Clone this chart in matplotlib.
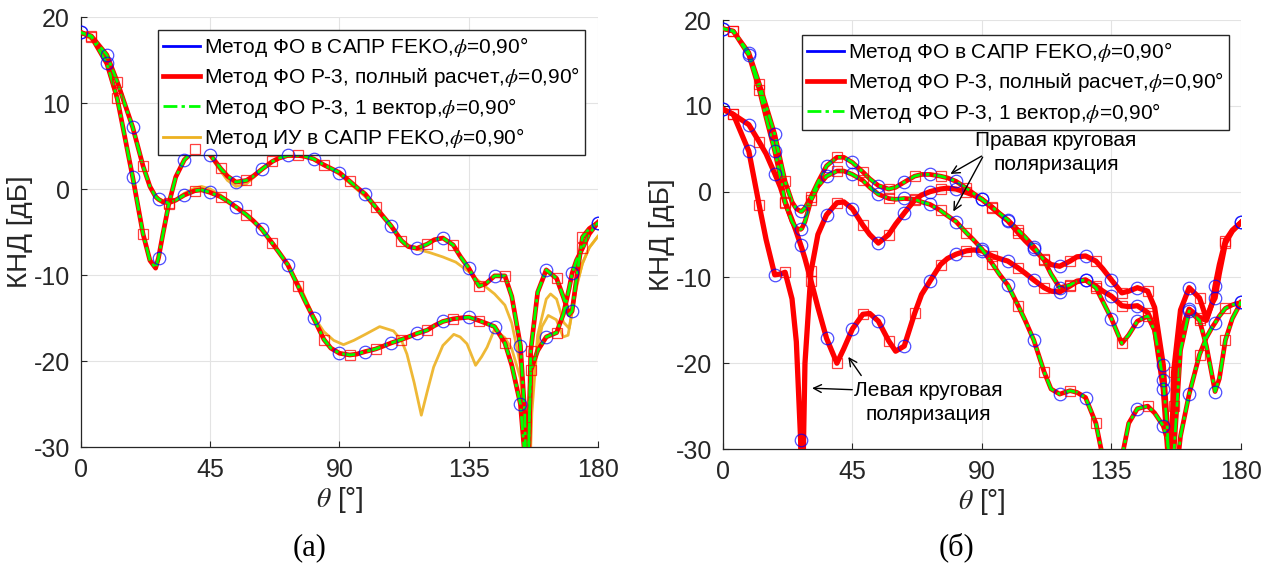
import numpy as np
import matplotlib
matplotlib.use("Agg")
import matplotlib.pyplot as plt

plt.rcParams['font.family'] = ['Liberation Sans', 'DejaVu Sans']
plt.rcParams['mathtext.fontset'] = 'stix'
plt.rcParams['axes.unicode_minus'] = False

# ---------- (а): linear polarisation, phi = 0 and 90 deg ----------
th_a = np.array([0, 3.6, 9, 12.6, 18, 21.6, 24, 26, 27, 28.5,
                 30.6, 33, 36, 39.6, 42, 45, 48.6, 51, 54, 57.6,
                 60, 63, 66.6, 69, 72, 75.6, 78, 81, 84.6, 87,
                 90, 93.6, 96, 99, 102.6, 105, 108, 111.6, 114, 117,
                 120.6, 123, 126, 129.6, 132, 135, 138.6, 141, 144, 147.6,
                 150, 153, 154.5, 155.3, 156.6, 159, 162, 165.6, 168, 170,
                 171, 172.5, 174.6, 177, 180])
# PO (FEKO) and PO "P-3" coincide -> one set of values per cut
a_cut1 = np.array([18.2, 17.7, 14.6, 10.6, 1.4, -5.2, -8.3, -9.2, -8.0, -5.3,
                   -1.7, 1.4, 3.4, 4.6, 4.7, 4.0, 2.4, 1.5, 0.8, 1.0,
                   1.5, 2.3, 3.2, 3.6, 3.9, 3.9, 3.8, 3.5, 2.8, 2.4,
                   1.9, 0.9, 0.2, -0.6, -2.1, -3.1, -4.3, -6.0, -6.7, -6.9,
                   -6.4, -5.9, -5.7, -6.5, -7.8, -9.2, -11.3, -11.0, -10.1, -10.1,
                   -12.5, -18.2, -26, -40, -18.8, -12.0, -9.4, -10.4, -12.6, -14.6,
                   -14.2, -10.5, -5.6, -4.6, -3.9])
a_cut2 = np.array([18.2, 17.8, 15.6, 12.5, 7.2, 2.7, 0.3, -0.9, -1.2, -1.5,
                   -1.6, -1.3, -0.7, -0.2, -0.1, -0.4, -0.9, -1.4, -2.1, -3.0,
                   -3.7, -4.7, -6.3, -7.4, -8.8, -11.3, -13.0, -15.0, -17.5, -18.5,
                   -19.1, -19.3, -19.2, -18.9, -18.6, -18.3, -17.9, -17.5, -17.2, -16.8,
                   -16.4, -15.9, -15.4, -15.1, -15.0, -14.9, -15.3, -15.6, -16.0, -17.9,
                   -20.5, -25.0, -31, -38, -21.1, -18.8, -17.2, -16.7, -14.5, -11.5,
                   -9.8, -8.3, -6.9, -5.2, -3.9])

# MoM (FEKO)
th_mom1 = np.array([0, 4.5, 9, 13.5, 18, 21.6, 24, 26, 27, 28.5,
                    30.6, 33, 36, 39.6, 42, 45, 48.6, 51, 54, 57.6,
                    63, 67.5, 72, 76.5, 81, 85.5, 90, 94.5, 99, 103.5,
                    108, 112.5, 117, 121.5, 126, 130.5, 135, 139.5, 144, 147.6,
                    150, 153, 154.5, 155.3, 156.6, 159, 162, 163.5, 165.6, 168,
                    170, 172.5, 174.6, 177, 180])
mom1 = np.array([18.2, 17.4, 14.6, 9.0, 1.5, -5.2, -8.3, -9.2, -8.0, -5.5,
                 -1.7, 1.3, 3.4, 4.6, 4.6, 3.8, 2.1, 1.0, 0.3, 0.6,
                 2.2, 3.4, 3.8, 3.8, 3.4, 2.6, 1.7, 0.4, -0.9, -2.6,
                 -4.4, -6.4, -7.0, -7.4, -7.9, -8.5, -9.6, -11.0, -12.2, -13.5,
                 -15.6, -20.5, -27, -40, -26, -17, -12.8, -12.2, -12.8, -15.5,
                 -16.2, -11.5, -8.6, -6.8, -5.5])
th_mom2 = np.array([0, 4.5, 9, 13.5, 18, 21.6, 24, 27, 30.6, 33,
                    36, 39.6, 42, 45, 48.6, 54, 58.5, 63, 67.5, 72,
                    76.5, 81, 84.6, 88, 91.4, 95, 99, 104, 108.8, 111.6,
                    113.5, 116, 118.5, 120.6, 122.8, 126, 129.8, 132, 134.4, 137.4,
                    139.5, 141.4, 144, 147.6, 150, 153, 154.5, 155.6, 157, 158.6,
                    160.5, 162.7, 165.5, 167.9, 169.6, 172.5, 174.6, 177, 180])
mom2 = np.array([18.2, 17.2, 15.6, 11.8, 7.3, 2.7, 0.3, -1.2, -1.5, -1.2,
                 -0.5, 0.1, 0.3, 0.0, -0.7, -2.0, -3.3, -4.7, -6.5, -8.8,
                 -11.5, -14.8, -16.6, -17.6, -18.1, -17.6, -16.9, -16.0, -16.5, -17.6,
                 -19.2, -22.5, -26.3, -23.5, -20.7, -18.2, -16.9, -17.2, -18.0, -20.5,
                 -19.5, -18.4, -16.3, -17.3, -18.6, -22, -28, -40, -26, -19.1,
                 -16.0, -14.7, -15.2, -17.2, -17.0, -11.2, -8.7, -6.8, -5.5])

# ---------- (б): circular polarisation ----------
th_b = np.array([0, 3.6, 9, 12.6, 15, 18, 20, 21.6, 24, 25.5,
                 27, 27.4, 28.5, 30.6, 33, 36, 39.6, 42, 45, 48.6,
                 51, 54, 57.6, 60, 63, 66.6, 69, 72, 75.6, 78,
                 81, 84.6, 87, 90, 93.6, 96, 99, 102.6, 105, 108,
                 111.6, 114, 117, 120.6, 123, 126, 129.6, 132, 135, 138.6,
                 141, 144, 147.6, 150, 153, 154.5, 155.3, 156.6, 159, 162,
                 165.6, 168, 170, 171, 172.5, 174.6, 177, 180])
# right-hand circular (all three methods)
rhcp1 = np.array([19.0, 18.7, 16.2, 12.6, 10.0, 6.7, 3.6, 1.2, -1.2, -2.0,
                  -2.3, -2.3, -1.9, -0.6, 1.1, 3.0, 4.0, 4.0, 3.4, 2.3,
                  1.5, 0.7, 0.3, 0.5, 1.1, 1.8, 2.0, 2.0, 1.8, 1.6,
                  1.2, 0.4, -0.2, -0.9, -1.8, -2.5, -3.3, -4.5, -5.3, -6.4,
                  -8.0, -9.6, -11.2, -10.9, -10.4, -10.3, -11.2, -12.8, -14.8, -17.7,
                  -16.7, -15.1, -14.5, -16.2, -22.0, -28, -40, -31, -18.5, -13.9,
                  -15.0, -18.0, -21.5, -23.3, -21.8, -17.3, -14.8, -12.9])
rhcp2 = np.array([19.0, 18.7, 15.9, 11.9, 8.6, 4.7, 1.6, -1.3, -3.5, -4.3,
                  -4.4, -4.3, -3.5, -1.0, 0.6, 1.8, 2.4, 2.4, 2.0, 1.3,
                  0.5, -0.3, -0.8, -0.9, -0.8, -0.9, -1.2, -1.5, -2.2, -2.8,
                  -3.5, -4.8, -5.6, -6.7, -8.4, -9.6, -10.9, -13.3, -15.0, -17.3,
                  -21.0, -23.0, -23.6, -23.2, -23.4, -24.0, -27.0, -31.0, -38, -31,
                  -27.0, -25.3, -25.0, -25.8, -27.3, -29.0, -32, -36, -28.5, -23.6,
                  -19.0, -17.0, -15.8, -15.3, -14.5, -13.6, -13.2, -12.9])
# left-hand circular (FEKO and full P-3 only)
lhcp1 = np.array([9.6, 9.0, 7.8, 5.8, 4.4, 2.1, 0.5, -1.2, -3.3, -4.7,
                  -6.2, -6.6, -7.8, -10.4, -13.5, -17.1, -20.0, -18.3, -16.0, -14.3,
                  -14.2, -15.1, -17.4, -18.6, -18.0, -14.2, -12.0, -10.4, -8.5, -7.8,
                  -7.3, -6.9, -6.8, -6.9, -7.5, -7.8, -8.1, -8.9, -9.5, -10.3,
                  -11.2, -11.6, -11.7, -11.0, -10.5, -10.3, -11.0, -11.6, -12.2, -13.3,
                  -13.4, -13.3, -14.1, -16.0, -23.0, -30, -40, -25, -16.5, -13.7,
                  -14.7, -15.0, -13.0, -12.4, -9.5, -6.0, -4.6, -3.6])
lhcp2 = np.array([9.6, 9.0, 4.7, -1.6, -5.6, -9.7, -9.6, -9.4, -12.5, -17.5,
                  -29.0, -40, -20.0, -9.3, -5.0, -2.7, -1.3, -1.2, -2.0, -3.9,
                  -5.0, -6.0, -5.0, -3.8, -2.5, -1.0, -0.4, 0.0, 0.3, 0.4,
                  0.3, -0.1, -0.4, -0.9, -1.9, -2.6, -3.4, -4.8, -5.7, -6.7,
                  -7.9, -8.5, -8.7, -8.1, -7.6, -7.5, -8.1, -9.0, -10.3, -11.8,
                  -11.6, -11.2, -11.6, -13.5, -20.2, -28, -40, -21, -13.8, -11.2,
                  -12.4, -14.8, -13.0, -11.0, -8.5, -5.7, -4.5, -3.6])

labels = ['Метод ФО в САПР FEKO,$\\phi$=0,90°',
          'Метод ФО Р-3, полный расчет,$\\phi$=0,90°',
          'Метод ФО Р-3, 1 вектор,$\\phi$=0,90°',
          'Метод ИУ в САПР FEKO,$\\phi$=0,90°']

dark = '#262626'
green_ls = (0, (5, 1.5, 1.2, 1.5))


def markers(ax, th, y):
    circ = np.isclose(th % 9, 0) | np.isclose(th % 9, 9)
    sq = np.isclose(th % 9, 3.6)
    ax.plot(th[circ], y[circ], 'o', ms=9, mfc='none', mec=(0, 0, 1, 0.7), mew=0.9, zorder=6)
    ax.plot(th[sq], y[sq], 's', ms=7.5, mfc='none', mec=(1, 0, 0, 0.75), mew=0.9, zorder=6)


def style(ax):
    ax.set_xlim(0, 180)
    ax.set_ylim(-30, 20)
    ax.set_xticks([0, 45, 90, 135, 180])
    ax.set_yticks([-30, -20, -10, 0, 10, 20])
    ax.grid(True, color='#e3e3e3', lw=0.8)
    ax.set_axisbelow(True)
    ax.spines[['top', 'right']].set_visible(False)
    for s in ['left', 'bottom']:
        ax.spines[s].set_color(dark)
        ax.spines[s].set_linewidth(0.9)
    ax.tick_params(direction='in', length=4, labelsize=18, colors=dark, pad=8)
    ax.set_xlabel(r'$\theta$ [°]', fontsize=20, color=dark, labelpad=2)
    ax.set_ylabel('КНД [дБ]', fontsize=20, color=dark, labelpad=0)


fig = plt.figure(figsize=(12.69, 5.67), dpi=100)
ax1 = fig.add_axes([0.0638, 0.2116, 0.4074, 0.7584])
ax2 = fig.add_axes([0.5697, 0.2081, 0.4082, 0.7566])

# (а)
for y in [a_cut1, a_cut2]:
    ax1.plot(th_a, y, color='blue', lw=1.2, zorder=2.5)
    ax1.plot(th_a, y, color='red', lw=3.4, zorder=3)
    ax1.plot(th_a, y, color=(0, 1, 0), lw=2.0, ls=green_ls, zorder=5)
    markers(ax1, th_a, y)
ax1.plot(th_mom1, mom1, color='#EDB120', lw=2.0, alpha=0.9, zorder=2)
ax1.plot(th_mom2, mom2, color='#EDB120', lw=2.0, alpha=0.9, zorder=2)
h1 = [plt.Line2D([], [], color='blue', lw=2),
      plt.Line2D([], [], color='red', lw=3.4),
      plt.Line2D([], [], color=(0, 1, 0), lw=2.0, ls=green_ls),
      plt.Line2D([], [], color='#EDB120', lw=2.0)]
style(ax1)
ax1.legend(h1, labels, loc='upper right', bbox_to_anchor=(0.975, 0.97), fontsize=15,
           handlelength=1.75, handletextpad=0.2, borderpad=0.25, labelspacing=0.3,
           borderaxespad=0, fancybox=False, framealpha=1, edgecolor=dark)

# (б)
for y in [lhcp1, lhcp2]:
    ax2.plot(th_b, y, color='blue', lw=1.2, zorder=2.5)
    ax2.plot(th_b, y, color='red', lw=3.8, zorder=3)
    markers(ax2, th_b, y)
for y in [rhcp1, rhcp2]:
    ax2.plot(th_b, y, color='blue', lw=1.2, zorder=2.5)
    ax2.plot(th_b, y, color='red', lw=3.4, zorder=3)
    ax2.plot(th_b, y, color=(0, 1, 0), lw=2.0, ls=green_ls, zorder=5)
    markers(ax2, th_b, y)
style(ax2)
ax2.legend(h1[:3], labels[:3], loc='upper right', bbox_to_anchor=(0.977, 0.965), fontsize=15,
           handlelength=1.75, handletextpad=0.2, borderpad=0.25, labelspacing=0.3,
           borderaxespad=0, fancybox=False, framealpha=1, edgecolor=dark)

ax2.text(115.7, 4.6, 'Правая круговая\nполяризация', fontsize=15, ha='center', va='center',
         linespacing=1.35, zorder=8)
ax2.text(71.2, -24.6, 'Левая круговая\nполяризация', fontsize=15, ha='center', va='center',
         linespacing=1.35, zorder=8)
arr = dict(arrowstyle='->', color='black', lw=1.0, mutation_scale=14)
ax2.annotate('', xy=(78.2, 1.9), xytext=(90.7, 4.3), arrowprops=arr, zorder=8)
ax2.annotate('', xy=(79.6, -2.6), xytext=(90.7, 4.3), arrowprops=arr, zorder=8)
ax2.annotate('', xy=(30.0, -22.9), xytext=(45.9, -23.1), arrowprops=arr, zorder=8)
ax2.annotate('', xy=(43.0, -19.0), xytext=(48.6, -21.7), arrowprops=arr, zorder=8)

fig.text(0.2443, 0.034, '(а)', fontsize=22, family='Liberation Serif', ha='center', va='center')
fig.text(0.754, 0.034, '(б)', fontsize=22, family='Liberation Serif', ha='center', va='center')

fig.savefig('out.png', dpi=100)
